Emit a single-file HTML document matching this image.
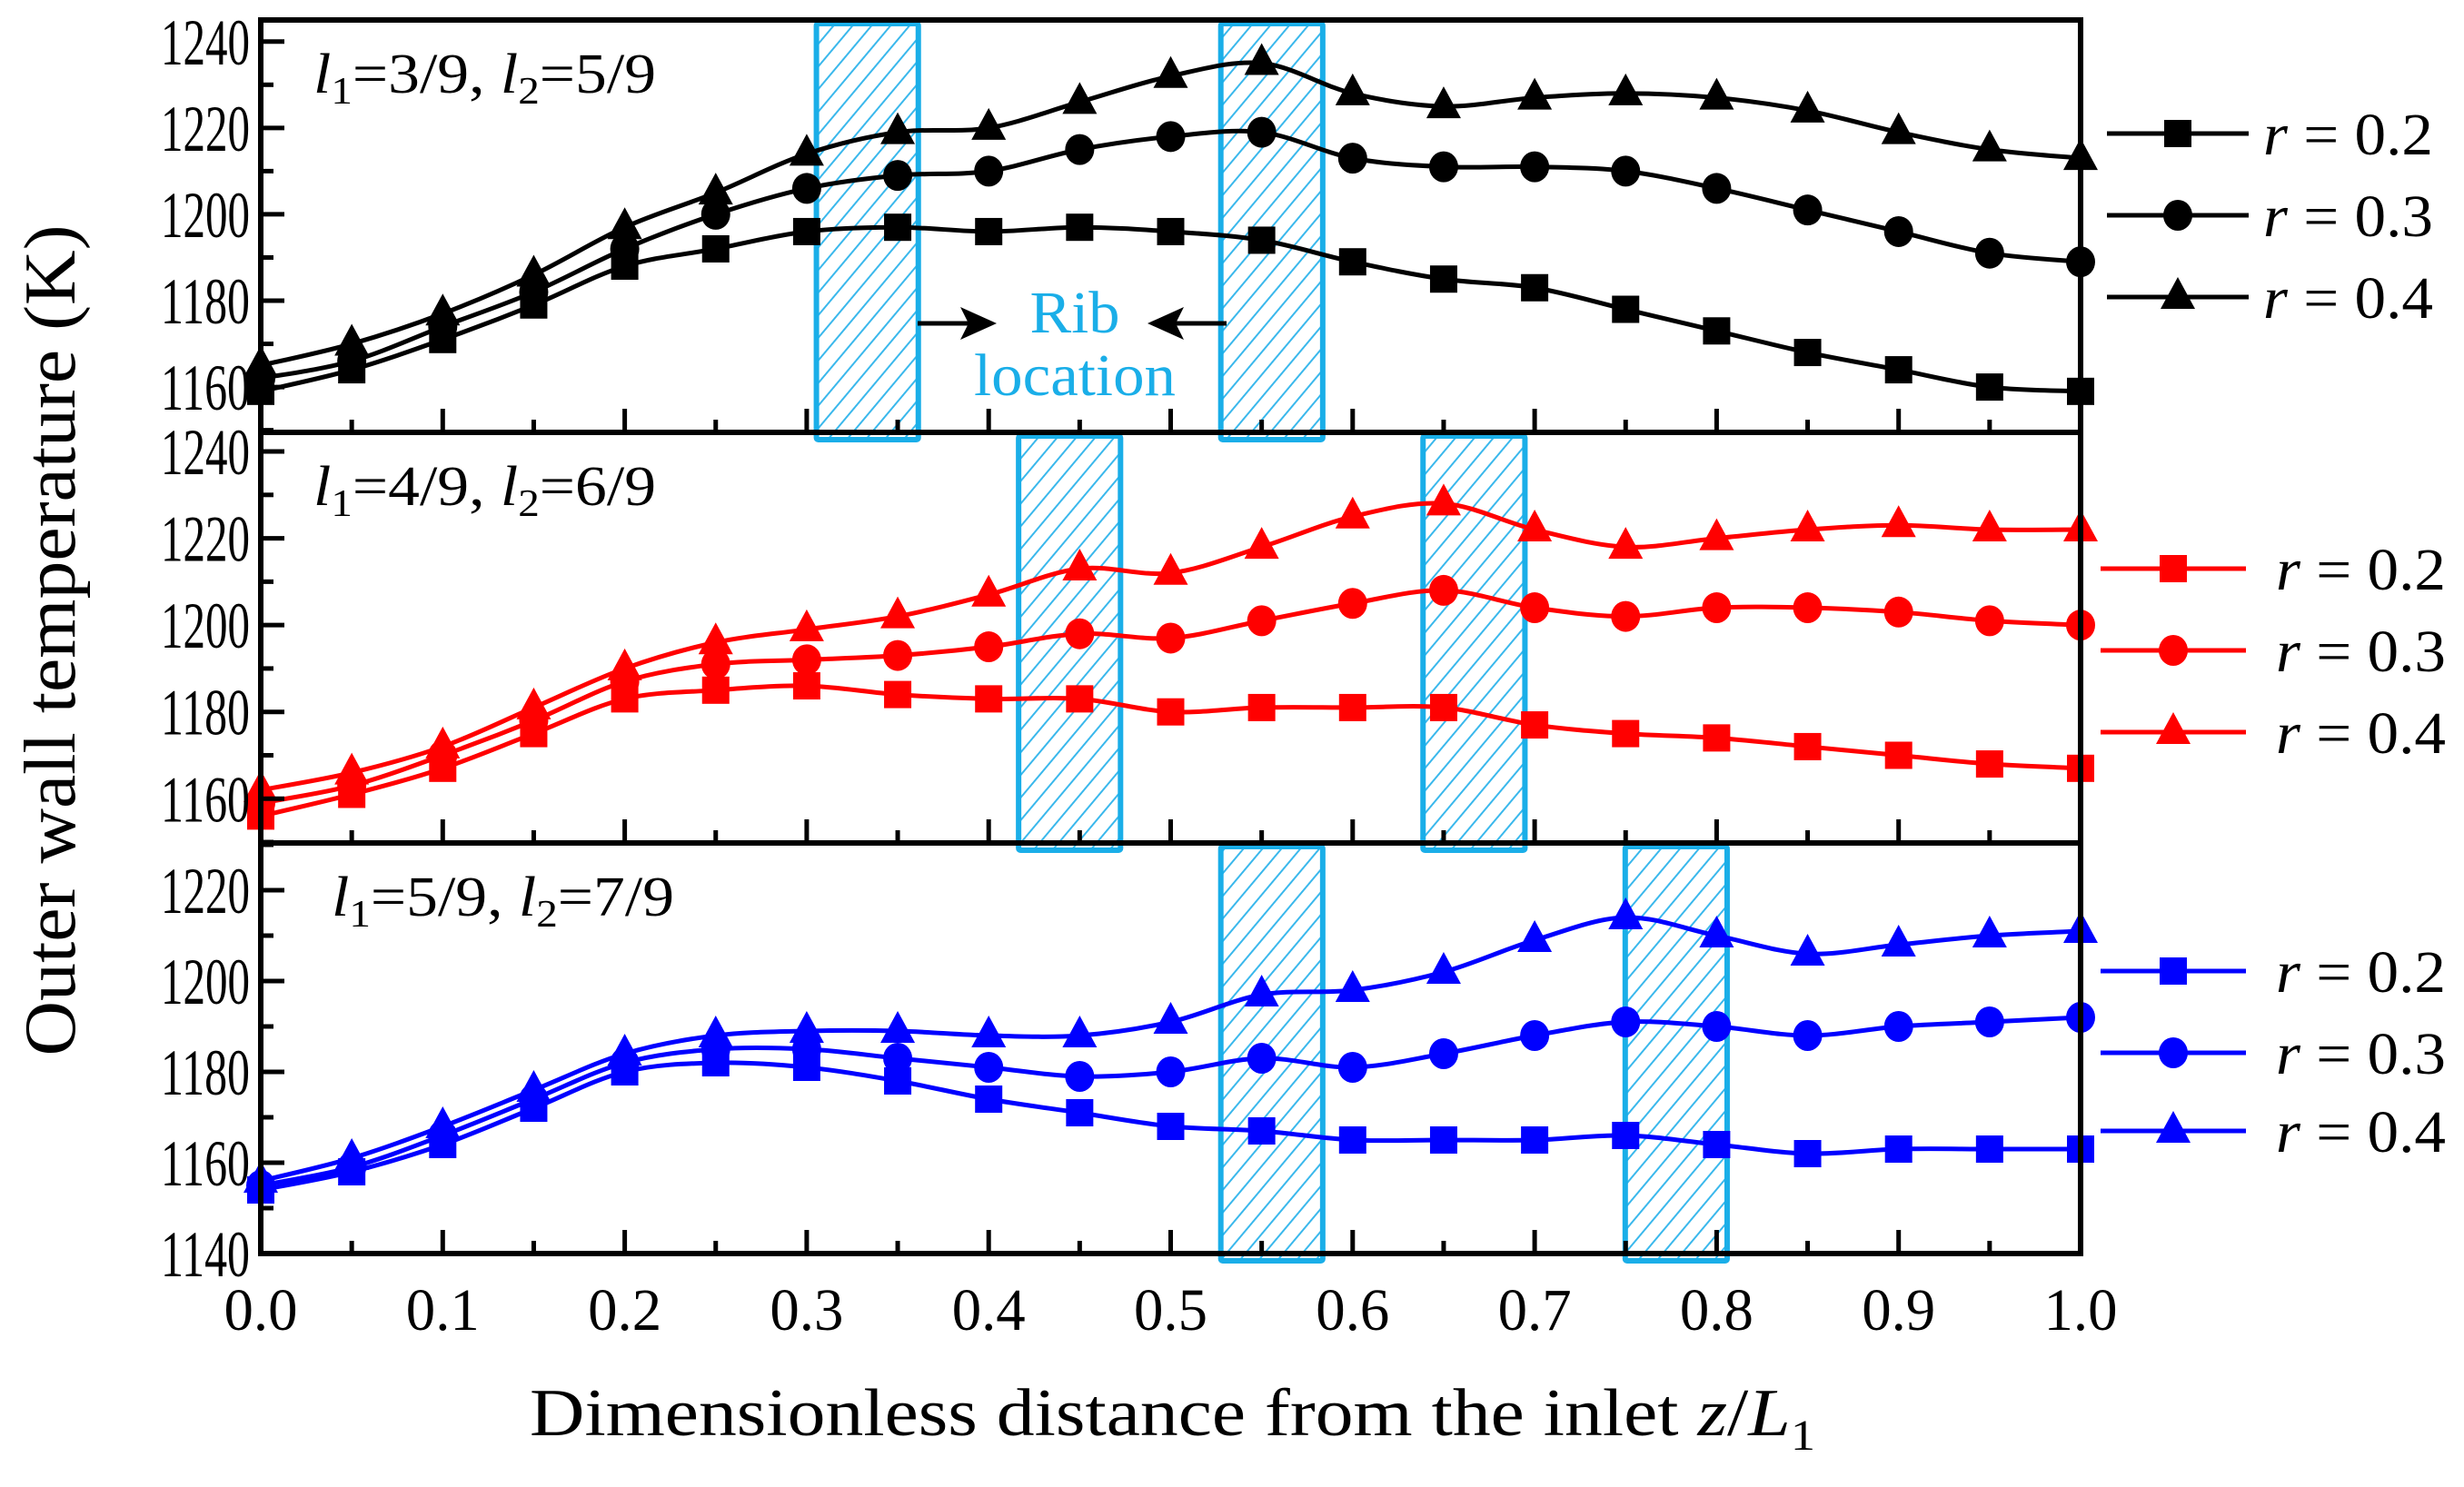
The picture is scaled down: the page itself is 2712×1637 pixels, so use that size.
<!DOCTYPE html>
<html><head><meta charset="utf-8"><style>
html,body{margin:0;padding:0;background:#fff;}
svg{display:block;}
text{font-family:"Liberation Serif","DejaVu Serif",serif;}
</style></head><body>
<svg id="chart" width="2712" height="1637" viewBox="0 0 2712 1637" xmlns="http://www.w3.org/2000/svg" font-family="Liberation Serif, DejaVu Serif, serif">
<defs>
<pattern id="hatch" patternUnits="userSpaceOnUse" width="16" height="16" patternTransform="rotate(40)">
<rect width="16" height="16" fill="#fff"/>
<line x1="0" y1="0" x2="0" y2="16" stroke="#3ab8ec" stroke-width="4"/>
</pattern>
</defs>
<g id="root"></g>
</svg>
<script>
const xValues=[0,0.05,0.1,0.15,0.2,0.25,0.3,0.35,0.4,0.45,0.5,0.55,0.6,0.65,0.7,0.75,0.8,0.85,0.9,0.95,1.0];
const xTickLabels=["0.0","0.1","0.2","0.3","0.4","0.5","0.6","0.7","0.8","0.9","1.0"];
const seriesLabels=["r = 0.2","r = 0.3","r = 0.4"];
const panelTitles=[["3/9","5/9"],["4/9","6/9"],["5/9","7/9"]];
const ribCenters=[[3/9,5/9],[4/9,6/9],[5/9,7/9]];
const ribWidth=0.056;
const p1r02=[1159,1164,1171,1179,1188,1192,1196,1197,1196,1197,1196,1194,1189,1185,1183,1178,1173,1168,1164,1160,1159];
const p1r03=[1162,1166,1174,1182,1192,1200,1206,1209,1210,1215,1218,1219,1213,1211,1211,1210,1206,1201,1196,1191,1189];
const p1r04=[1165,1170,1177,1186,1197,1205,1214,1219,1220,1226,1232,1235,1228,1225,1227,1228,1227,1224,1219,1215,1213];
const p2r02=[1156,1161,1167,1175,1183,1185,1186,1184,1183,1183,1180,1181,1181,1181,1177,1175,1174,1172,1170,1168,1167];
const p2r03=[1159,1163,1170,1178,1187,1191,1192,1193,1195,1198,1197,1201,1205,1208,1204,1202,1204,1204,1203,1201,1200];
const p2r04=[1162,1166,1172,1181,1190,1196,1199,1202,1207,1213,1212,1218,1225,1228,1222,1218,1220,1222,1223,1222,1222];
const p3r02=[1154,1158,1164,1172,1180,1182,1181,1178,1174,1171,1168,1167,1165,1165,1165,1166,1164,1162,1163,1163,1163];
const p3r03=[1155,1159,1166,1174,1182,1185,1185,1183,1181,1179,1180,1183,1181,1184,1188,1191,1190,1188,1190,1191,1192];
const p3r04=[1156,1161,1168,1176,1184,1188,1189,1189,1188,1188,1191,1197,1198,1202,1209,1214,1210,1206,1208,1210,1211];
const panelSeries=[[p1r02,p1r03,p1r04],[p2r02,p2r03,p2r04],[p3r02,p3r03,p3r04]];
const yTicks=[[1160,1180,1200,1220,1240],[1160,1180,1200,1220,1240],[1140,1160,1180,1200,1220]];
const yDomains=[[1149.5,1245],[1149.8,1244.4],[1140,1230.4]];

const NS="http://www.w3.org/2000/svg";
const root=document.getElementById('root');
function mk(tag,attrs,parent){const e=document.createElementNS(NS,tag);for(const k in attrs)e.setAttribute(k,attrs[k]);(parent||root).appendChild(e);return e;}
const X0=287,X1=2290;
const panels=[{top:22,bot:476,color:"#000"},{top:476,bot:928,color:"#ff0000"},{top:928,bot:1380,color:"#0000ff"}];
const legendY=[[147,237,327],[626,716,806],[1069,1159,1245]];
function xs(v){return X0+(X1-X0)*v;}
function spline(pts){let d="M"+pts[0][0]+","+pts[0][1];for(let i=0;i<pts.length-1;i++){const p0=pts[Math.max(0,i-1)],p1=pts[i],p2=pts[i+1],p3=pts[Math.min(pts.length-1,i+2)];const c1=[p1[0]+(p2[0]-p0[0])/6,p1[1]+(p2[1]-p0[1])/6],c2=[p2[0]-(p3[0]-p1[0])/6,p2[1]-(p3[1]-p1[1])/6];d+=" C"+c1[0]+","+c1[1]+" "+c2[0]+","+c2[1]+" "+p2[0]+","+p2[1];}return d;}
function marker(g,kind,x,y,color){let e;
 if(kind===0){e=mk('rect',{x:x-15,y:y-15,width:30,height:30,fill:color},g);}
 else if(kind===1){e=mk('ellipse',{cx:x,cy:y,rx:16,ry:17,fill:color},g);}
 else{e=mk('polygon',{points:(x)+","+(y-22)+" "+(x-19)+","+(y+13)+" "+(x+19)+","+(y+13),fill:color},g);}
 return e;}
const FF="Liberation Serif, DejaVu Serif, serif";

panels.forEach((P,pi)=>{
 const g=mk('g',{});
 
 
 const dom=yDomains[pi];
 const ys=v=>P.bot-(P.bot-P.top)*(v-dom[0])/(dom[1]-dom[0]);
 ribCenters[pi].forEach((c,ri)=>{
  const a=xs(c-ribWidth/2),b=xs(c+ribWidth/2);
  const r=mk('rect',{x:a,y:P.top+4,width:b-a,height:P.bot-P.top+4,fill:"url(#hatch)",stroke:"#1aaee8","stroke-width":6,rx:2},g);
  
  
 });
 panelSeries[pi].forEach((arr,si)=>{
  const pts=arr.map((v,i)=>[xs(xValues[i]),ys(v)]);
  const path=mk('path',{d:spline(pts),fill:"none",stroke:P.color,"stroke-width":5},g);
  
  
  pts.forEach((p,i)=>{const m=marker(g,si,p[0],p[1],P.color);
   
   });
 });
 for(let k=0;k<=20;k++){const x=xs(k*0.05);const len=k%2===0?26:14;
  const t=mk('line',{x1:x,y1:P.bot,x2:x,y2:P.bot-len,stroke:"#000","stroke-width":5},g);
  
  }
 for(let v=Math.ceil(dom[0]/10)*10;v<=dom[1];v+=10){const y=ys(v);const len=v%20===0?26:14;
  const t=mk('line',{x1:X0,y1:y,x2:X0+len,y2:y,stroke:"#000","stroke-width":5},g);
  
  }
 yTicks[pi].forEach(v=>{const t=mk('text',{x:X0-12,y:ys(v)+25,"font-size":72,"font-family":FF,"text-anchor":"end",fill:"#000",textLength:98,lengthAdjust:"spacingAndGlyphs"},g);t.textContent=v;
  
  });
 const f=mk('rect',{x:X0,y:P.top,width:X1-X0,height:P.bot-P.top,fill:"none",stroke:"#000","stroke-width":6},g);
 
 
 const tt=mk('text',{x:pi===2?365:345,y:P.top+80,"font-size":62,"font-family":FF,fill:"#000",textLength:377,lengthAdjust:"spacingAndGlyphs"},g);
 
 
 tt.innerHTML='<tspan font-style="italic">l</tspan><tspan font-size="42" dy="12">1</tspan><tspan dy="-12">='+panelTitles[pi][0]+', </tspan><tspan font-style="italic">l</tspan><tspan font-size="42" dy="12">2</tspan><tspan dy="-12">='+panelTitles[pi][1]+'</tspan>';
 seriesLabels.forEach((lab,si)=>{const y=legendY[pi][si];
  const lg=mk('g',{},g);
  
  
  const x0=pi===0?2319:2312, x1=pi===0?2475:2472;
  mk('line',{x1:x0,y1:y,x2:x1,y2:y,stroke:P.color,"stroke-width":5},lg);
  marker(lg,si,(x0+x1)/2,y,P.color);
  const t=mk('text',{x:pi===0?2491:2505,y:y+23,"font-size":66,"font-family":FF,fill:"#000",textLength:187,lengthAdjust:"spacingAndGlyphs"},lg);
  t.innerHTML='<tspan font-style="italic">r</tspan> = '+lab.split('= ')[1];
 });
});
xTickLabels.forEach((l,i)=>{const t=mk('text',{x:xs(i*0.1),y:1464,"font-size":66,"font-family":FF,"text-anchor":"middle",fill:"#000",textLength:81,lengthAdjust:"spacingAndGlyphs"});t.textContent=l;
 
 });
const xt=mk('text',{x:583,y:1580,"font-size":74,"font-family":FF,fill:"#000",textLength:1415,lengthAdjust:"spacingAndGlyphs"});


xt.innerHTML='Dimensionless distance from the inlet <tspan font-style="italic">z</tspan>/<tspan font-style="italic">L</tspan><tspan font-size="48" dy="16">1</tspan>';
const yt=mk('text',{x:0,y:0,"font-size":80,"font-family":FF,"text-anchor":"middle",fill:"#000",transform:"translate(82,705) rotate(-90)",textLength:915,lengthAdjust:"spacingAndGlyphs"});


yt.textContent='Outer wall temperature (K)';
const ann=mk('g',{});


mk('line',{x1:1010,y1:356,x2:1070,y2:356,stroke:"#000","stroke-width":5},ann);
mk('polygon',{points:"1097,356 1057,338 1066,356 1057,374",fill:"#000"},ann);
mk('line',{x1:1350,y1:356,x2:1290,y2:356,stroke:"#000","stroke-width":5},ann);
mk('polygon',{points:"1263,356 1303,338 1294,356 1303,374",fill:"#000"},ann);
const r1=mk('text',{x:1183,y:366,"font-size":66,"font-family":FF,"text-anchor":"middle",fill:"#1aaee8",textLength:99,lengthAdjust:"spacingAndGlyphs"},ann);r1.textContent='Rib';
const r2=mk('text',{x:1183,y:435,"font-size":66,"font-family":FF,"text-anchor":"middle",fill:"#1aaee8",textLength:222,lengthAdjust:"spacingAndGlyphs"},ann);r2.textContent='location';
</script>
</body></html>
